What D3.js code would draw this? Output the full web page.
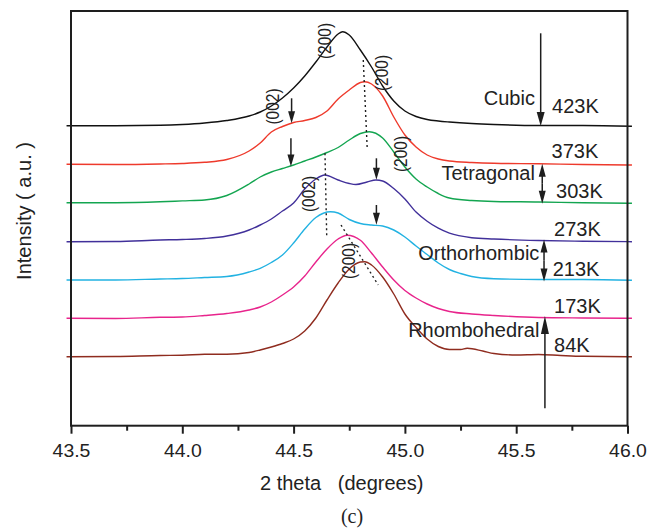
<!DOCTYPE html>
<html><head><meta charset="utf-8">
<script src="https://cdn.jsdelivr.net/npm/d3@7"></script>
<style>
body{margin:0;background:#fff}
svg{display:block}
text{font-family:"Liberation Sans",Arial,Helvetica,sans-serif;fill:#222}
</style>
</head><body>
<svg id="c" width="661" height="530"></svg>
<script>
// ---- data: 2-theta (deg) vs intensity above own baseline (a.u.) ----
const k423 = [[43.48,0],[43.7,0],[43.9,0.4],[44.0,1.2],[44.1,2.7],[44.2,5.2],[44.3,9.7],[44.35,13.7],[44.4,19.7],[44.45,27.7],[44.5,37.7],[44.55,49.7],[44.6,63.7],[44.65,78.7],[44.7,91.7],[44.72,94],[44.75,90.7],[44.8,75.7],[44.85,58.7],[44.9,39.7],[44.95,24.7],[45.0,14.7],[45.05,9.2],[45.1,6.2],[45.15,4.7],[45.2,3.7],[45.3,2.2],[45.4,1.2],[45.6,0.2],[45.8,0.2],[46.02,-0.6]];
const k373 = [[43.48,-0.3],[43.7,-0.5],[43.9,0],[44.0,0.5],[44.1,1.7],[44.2,4.5],[44.3,13],[44.35,21],[44.4,32],[44.45,37.5],[44.5,41.5],[44.55,43.5],[44.6,46.5],[44.65,53],[44.7,65],[44.75,74],[44.8,81.5],[44.82,82.3],[44.85,80],[44.9,68],[44.95,47],[45.0,29],[45.05,17],[45.1,9],[45.15,5],[45.2,3],[45.3,1.5],[45.4,0.7],[45.6,0.2],[45.8,-0.5],[46.02,-1]];
const k303 = [[43.48,0],[43.7,0],[43.9,0.9],[44.0,1.8],[44.1,2.7],[44.2,7.2],[44.3,18.7],[44.35,25.7],[44.4,30.7],[44.45,34.2],[44.5,37.7],[44.55,41.7],[44.6,45.7],[44.65,50.2],[44.7,55.2],[44.75,62.7],[44.8,69.2],[44.84,71],[44.9,64.7],[44.95,50.7],[45.0,35.7],[45.05,23.7],[45.1,15.7],[45.15,9.2],[45.2,4.7],[45.3,2.2],[45.4,1.2],[45.6,0.7],[45.8,-0.1],[46.02,-0.6]];
const k273 = [[43.48,0],[43.7,0.2],[43.9,1.7],[44.0,2.2],[44.1,3.2],[44.2,5.7],[44.3,11.7],[44.35,16.7],[44.4,22.7],[44.45,30.7],[44.5,38.7],[44.55,52.7],[44.6,62.7],[44.64,66.7],[44.7,61.7],[44.75,58.2],[44.78,57.2],[44.83,59.7],[44.87,61.7],[44.9,60.7],[44.95,53.2],[45.0,42.7],[45.05,29.7],[45.1,20.5],[45.15,13.5],[45.2,8.5],[45.3,4],[45.4,2.7],[45.6,1.2],[45.8,0.5],[46.02,0]];
const k213 = [[43.48,0],[43.7,0],[43.9,1],[44.0,1.5],[44.1,2.5],[44.2,3.5],[44.3,8],[44.35,11.7],[44.4,17.5],[44.45,25],[44.5,37],[44.55,51],[44.6,62.5],[44.665,68.3],[44.7,67],[44.75,60.5],[44.8,56.5],[44.85,55],[44.9,54],[44.95,50],[45.0,43],[45.05,34],[45.1,25.5],[45.15,17],[45.2,10.5],[45.25,6.5],[45.3,3.5],[45.4,1.3],[45.6,0.5],[45.8,0.5],[46.02,-0.3]];
const k173 = [[43.48,0.4],[43.7,0.2],[43.9,1.4],[44.0,1.7],[44.1,3.2],[44.2,5.2],[44.3,8.7],[44.35,11.7],[44.4,16.7],[44.45,23.7],[44.5,31.7],[44.55,42.7],[44.6,56.7],[44.65,69.7],[44.7,79.7],[44.74,83.5],[44.8,78.5],[44.85,65.7],[44.9,51.7],[44.95,38.7],[45.0,28.2],[45.05,20.7],[45.1,14.7],[45.15,10.2],[45.2,7.2],[45.3,4.7],[45.4,3.2],[45.6,1.2],[45.8,0.7],[46.02,0.4]];
const k84 = [[43.48,0.6],[43.7,0.8],[43.9,1.8],[44.0,2.0],[44.1,3.0],[44.2,3.0],[44.3,4.8],[44.35,7.3],[44.4,10.3],[44.45,13.8],[44.5,18.3],[44.55,26.3],[44.6,39.3],[44.65,57.3],[44.7,74.3],[44.75,88.3],[44.8,95.3],[44.82,95.6],[44.85,92.3],[44.9,80.3],[44.95,63.3],[45.0,43.3],[45.05,29.8],[45.1,18.3],[45.15,10.8],[45.2,7.8],[45.25,7.8],[45.28,9],[45.35,6.3],[45.4,3.8],[45.5,2.3],[45.6,2.8],[45.7,1.8],[45.8,1],[46.02,0.6]];

const seriesData = [k423, k373, k303, k273, k213, k173, k84];
const seriesOffsets = [300, 261.7, 223, 184, 145.7, 107, 68.4];
const seriesColors = ["#111111","#ee3a2c","#13a550","#41309a","#22b2e2","#e8248c","#8f2c1f"];
const tempLabels = ["423K","373K","303K","273K","213K","173K","84K"];
const tempLabelPos = [[45.661,312.4],[45.659,267.4],[45.679,227.4],[45.670,189.7],[45.664,149.7],[45.670,112.4],[45.670,74]];

const xTicks = [43.5,44.0,44.5,45.0,45.5,46.0];
const xMinor = [43.75,44.25,44.75,45.25,45.75];

// phase labels: [text, theta(end), a.u.]
const phaseLabels = [["Cubic",45.584,320.7],["Tetragonal",45.584,246.2],["Orthorhombic",45.604,165.4],["Rhombohedral",45.604,89]];
// phase arrows: [theta, from a.u., to a.u., doubleHeaded, head length]
const phaseArrows = [[45.610,392.4,299.7,false,14],[45.617,221.9,262.0,true,13],[45.625,144.2,186.2,true,13],[45.629,17.4,109.7,false,18]];
// peak labels: [text, theta, a.u.] (centre, vertical text)
const peakLabels = [["(200)",44.637,384.7],["(002)",44.405,319.2],["(200)",44.893,352.7],["(200)",44.978,271.7],["(002)",44.565,231.7],["(200)",44.744,164.7]];
// small down arrows: [theta, top a.u., tip a.u.]
const peakArrows = [[44.491,327.4,302.4],[44.488,287.4,259.2],[44.872,267.4,245.9],[44.872,220.7,200.9]];
// dotted guide lines: [theta1, a.u.1, theta2, a.u.2]
const guideLines = [[44.813,365.7,44.831,275.7],[44.641,272.4,44.649,187.4],[44.713,200.7,44.880,140.7]];

// ---- drawing ----
const svg = d3.select("#c");
const x = d3.scaleLinear().domain([43.5,46.0]).range([71,627.5]);
const y = d3.scaleLinear().domain([0,414.7]).range([425.7,11]);
const ink = "#1e1e1e";

// curves
const line = d3.line().x(d=>x(d[0])).y(d=>d[1]).curve(d3.curveMonotoneX);
seriesData.forEach((s,i)=>{
  const pts = s.map(p=>[p[0], y(p[1]+seriesOffsets[i])]);
  svg.append("path").attr("d", line(pts)).attr("fill","none")
    .attr("stroke", seriesColors[i]).attr("stroke-width",1.4).attr("stroke-linejoin","round");
});

// frame
svg.append("rect").attr("x",x(43.5)).attr("y",y(414.7))
  .attr("width",x(46.0)-x(43.5)).attr("height",y(0)-y(414.7))
  .attr("fill","none").attr("stroke",ink).attr("stroke-width",2);

// x axis
const gx = svg.append("g").attr("transform",`translate(0,${y(0)})`)
  .call(d3.axisBottom(x).tickValues(xTicks).tickSize(8).tickSizeOuter(0).tickFormat(d3.format(".1f")));
gx.select(".domain").remove();
gx.selectAll(".tick line").attr("stroke",ink).attr("stroke-width",2);
gx.selectAll(".tick text").attr("y",31).attr("dy",0).attr("fill","#222")
  .style("font-family",'"Liberation Sans",Arial,sans-serif').style("font-size","17.5px")
  .attr("transform","scale(1.11,1)");
const gm = svg.append("g").attr("transform",`translate(0,${y(0)})`)
  .call(d3.axisBottom(x).tickValues(xMinor).tickSize(5).tickSizeOuter(0).tickFormat(""));
gm.select(".domain").remove();
gm.selectAll(".tick line").attr("stroke",ink).attr("stroke-width",2);

// axis titles
svg.append("text").attr("x",341.7).attr("y",490).attr("text-anchor","middle")
  .style("font-size","20px").style("white-space","pre").attr("xml:space","preserve").text("2 theta   (degrees)");
svg.append("text").attr("transform","translate(30.7,211) rotate(-90)").attr("text-anchor","middle")
  .style("font-size","20px").attr("xml:space","preserve").style("white-space","pre").text("Intensity ( a.u. )");
svg.append("text").attr("x",352).attr("y",523).attr("text-anchor","middle")
  .style("font-family",'"Liberation Serif","Times New Roman",serif').style("font-size","20px").text("(c)");

// arrow helper
function arrow(px, y1, y2, headLen, headW){
  const dir = y2 > y1 ? 1 : -1;
  svg.append("line").attr("x1",px).attr("x2",px).attr("y1",y1).attr("y2",y2 - dir*headLen*0.8)
    .attr("stroke",ink).attr("stroke-width",1.5);
  svg.append("path").attr("d",`M${px},${y2} L${px-headW/2},${y2-dir*headLen} L${px+headW/2},${y2-dir*headLen} Z`)
    .attr("fill",ink);
}

// dotted guides
guideLines.forEach(g=>{
  svg.append("line").attr("x1",x(g[0])).attr("y1",y(g[1])).attr("x2",x(g[2])).attr("y2",y(g[3]))
    .attr("stroke",ink).attr("stroke-width",1.4).attr("stroke-dasharray","2,3");
});

// small peak arrows
peakArrows.forEach(a=>arrow(x(a[0]), y(a[1]), y(a[2]), 12, 7));

// peak labels
peakLabels.forEach(l=>{
  svg.append("text").attr("transform",`translate(${x(l[1])},${y(l[2])}) rotate(-90) scale(1,1.18)`)
    .attr("text-anchor","middle").attr("dy","0.36em").style("font-size","15.5px").text(l[0]);
});

// phase arrows
phaseArrows.forEach(a=>{
  const px = x(a[0]);
  if(a[3]){
    const mid = (y(a[1])+y(a[2]))/2;
    arrow(px, mid, y(a[1]), a[4], 7);
    arrow(px, mid, y(a[2]), a[4], 7);
  } else {
    arrow(px, y(a[1]), y(a[2]), a[4], 8);
  }
});

// phase labels
phaseLabels.forEach(l=>{
  svg.append("text").attr("x",x(l[1])).attr("y",y(l[2])).attr("text-anchor","end")
    .style("font-size","20px").text(l[0]);
});
// temperature labels
tempLabels.forEach((t,i)=>{
  svg.append("text").attr("x",x(tempLabelPos[i][0])).attr("y",y(tempLabelPos[i][1]))
    .style("font-size","20px").text(t);
});
</script>
</body></html>
